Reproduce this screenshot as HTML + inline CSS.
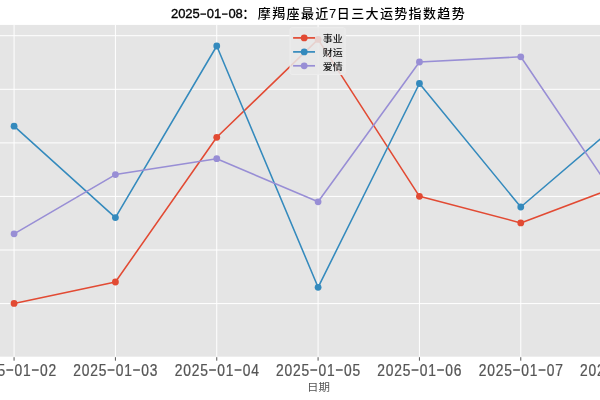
<!DOCTYPE html>
<html><head><meta charset="utf-8"><title>chart</title>
<style>
html,body{margin:0;padding:0;background:#fff;width:600px;height:400px;overflow:hidden}
svg{display:block}
#w{width:600px;height:400px}
</style></head><body>
<div id="w"><svg width="600" height="400" viewBox="0 0 600 400">
<rect x="0" y="0" width="600" height="400" fill="#fff"/>
<rect x="-20" y="24.9" width="680" height="331.8" fill="#E5E5E5"/>
<g stroke="#fff" stroke-width="1" fill="none">
<line x1="-20" y1="35.7" x2="660" y2="35.7"/>
<line x1="-20" y1="89.3" x2="660" y2="89.3"/>
<line x1="-20" y1="142.9" x2="660" y2="142.9"/>
<line x1="-20" y1="196.4" x2="660" y2="196.4"/>
<line x1="-20" y1="250" x2="660" y2="250"/>
<line x1="-20" y1="303.6" x2="660" y2="303.6"/>
<line x1="14.07" y1="24.9" x2="14.07" y2="356.7"/>
<line x1="115.41" y1="24.9" x2="115.41" y2="356.7"/>
<line x1="216.75" y1="24.9" x2="216.75" y2="356.7"/>
<line x1="318.09" y1="24.9" x2="318.09" y2="356.7"/>
<line x1="419.43" y1="24.9" x2="419.43" y2="356.7"/>
<line x1="520.77" y1="24.9" x2="520.77" y2="356.7"/>
<line x1="622.11" y1="24.9" x2="622.11" y2="356.7"/>
</g>
<g stroke="#555" stroke-width="1">
<line x1="14.07" y1="357.2" x2="14.07" y2="360.7"/>
<line x1="115.41" y1="357.2" x2="115.41" y2="360.7"/>
<line x1="216.75" y1="357.2" x2="216.75" y2="360.7"/>
<line x1="318.09" y1="357.2" x2="318.09" y2="360.7"/>
<line x1="419.43" y1="357.2" x2="419.43" y2="360.7"/>
<line x1="520.77" y1="357.2" x2="520.77" y2="360.7"/>
<line x1="622.11" y1="357.2" x2="622.11" y2="360.7"/>
</g>
<text x="-27.48 -17.82 -8.16 1.5 11.16 20.82 30.48 40.14 49.8 59.45" y="375.6 375.6 375.6 375.6 375.6 375.6 375.6 375.6 375.6 375.6" font-size="15.7" fill="#555" text-anchor="middle" font-family="'Liberation Sans','Noto Sans CJK SC',sans-serif" transform="scale(0.88,1)" stroke="#555" stroke-width="0.25">2025<tspan font-family="IPAGothic,'Liberation Sans',sans-serif" font-size="18.4" dy="1.4">-</tspan>01<tspan font-family="IPAGothic,'Liberation Sans',sans-serif" font-size="18.4" dy="1.4">-</tspan>02</text>
<text x="87.68 97.34 107 116.66 126.32 135.98 145.64 155.3 164.95 174.61" y="375.6 375.6 375.6 375.6 375.6 375.6 375.6 375.6 375.6 375.6" font-size="15.7" fill="#555" text-anchor="middle" font-family="'Liberation Sans','Noto Sans CJK SC',sans-serif" transform="scale(0.88,1)" stroke="#555" stroke-width="0.25">2025<tspan font-family="IPAGothic,'Liberation Sans',sans-serif" font-size="18.4" dy="1.4">-</tspan>01<tspan font-family="IPAGothic,'Liberation Sans',sans-serif" font-size="18.4" dy="1.4">-</tspan>03</text>
<text x="202.84 212.5 222.16 231.82 241.48 251.14 260.8 270.45 280.11 289.77" y="375.6 375.6 375.6 375.6 375.6 375.6 375.6 375.6 375.6 375.6" font-size="15.7" fill="#555" text-anchor="middle" font-family="'Liberation Sans','Noto Sans CJK SC',sans-serif" transform="scale(0.88,1)" stroke="#555" stroke-width="0.25">2025<tspan font-family="IPAGothic,'Liberation Sans',sans-serif" font-size="18.4" dy="1.4">-</tspan>01<tspan font-family="IPAGothic,'Liberation Sans',sans-serif" font-size="18.4" dy="1.4">-</tspan>04</text>
<text x="318 327.66 337.32 346.98 356.64 366.3 375.95 385.61 395.27 404.93" y="375.6 375.6 375.6 375.6 375.6 375.6 375.6 375.6 375.6 375.6" font-size="15.7" fill="#555" text-anchor="middle" font-family="'Liberation Sans','Noto Sans CJK SC',sans-serif" transform="scale(0.88,1)" stroke="#555" stroke-width="0.25">2025<tspan font-family="IPAGothic,'Liberation Sans',sans-serif" font-size="18.4" dy="1.4">-</tspan>01<tspan font-family="IPAGothic,'Liberation Sans',sans-serif" font-size="18.4" dy="1.4">-</tspan>05</text>
<text x="433.16 442.82 452.48 462.14 471.8 481.45 491.11 500.77 510.43 520.09" y="375.6 375.6 375.6 375.6 375.6 375.6 375.6 375.6 375.6 375.6" font-size="15.7" fill="#555" text-anchor="middle" font-family="'Liberation Sans','Noto Sans CJK SC',sans-serif" transform="scale(0.88,1)" stroke="#555" stroke-width="0.25">2025<tspan font-family="IPAGothic,'Liberation Sans',sans-serif" font-size="18.4" dy="1.4">-</tspan>01<tspan font-family="IPAGothic,'Liberation Sans',sans-serif" font-size="18.4" dy="1.4">-</tspan>06</text>
<text x="548.32 557.98 567.64 577.3 586.95 596.61 606.27 615.93 625.59 635.25" y="375.6 375.6 375.6 375.6 375.6 375.6 375.6 375.6 375.6 375.6" font-size="15.7" fill="#555" text-anchor="middle" font-family="'Liberation Sans','Noto Sans CJK SC',sans-serif" transform="scale(0.88,1)" stroke="#555" stroke-width="0.25">2025<tspan font-family="IPAGothic,'Liberation Sans',sans-serif" font-size="18.4" dy="1.4">-</tspan>01<tspan font-family="IPAGothic,'Liberation Sans',sans-serif" font-size="18.4" dy="1.4">-</tspan>07</text>
<text x="663.48 673.14 682.8 692.45 702.11 711.77 721.43 731.09 740.75 750.41" y="375.6 375.6 375.6 375.6 375.6 375.6 375.6 375.6 375.6 375.6" font-size="15.7" fill="#555" text-anchor="middle" font-family="'Liberation Sans','Noto Sans CJK SC',sans-serif" transform="scale(0.88,1)" stroke="#555" stroke-width="0.25">2025<tspan font-family="IPAGothic,'Liberation Sans',sans-serif" font-size="18.4" dy="1.4">-</tspan>01<tspan font-family="IPAGothic,'Liberation Sans',sans-serif" font-size="18.4" dy="1.4">-</tspan>08</text>
<text x="318.6" y="391" transform="translate(0 386.8) scale(1 0.9) translate(0 -386.8)" font-family="'Liberation Sans','Noto Sans CJK SC',sans-serif" font-size="11.5" fill="#555" text-anchor="middle">日期</text>
<text x="174.59 181.77 188.95 196.13 203.31 210.49 217.67 224.85 232.03 239.21" y="18.3 18.3 18.3 18.3 18.3 18.3 18.3 18.3 18.3 18.3" font-size="13" fill="#000" text-anchor="middle" font-family="'Liberation Sans','Noto Sans CJK SC',sans-serif" stroke="#000" stroke-width="0.35">2025<tspan font-family="IPAGothic,'Liberation Sans',sans-serif" font-size="13" dy="0.4">-</tspan>01<tspan font-family="IPAGothic,'Liberation Sans',sans-serif" font-size="13" dy="0.4">-</tspan>08</text>
<text x="248.78 264.34 278.7 293.06 307.42 321.78 332.55 343.32 357.68 372.04 386.4 400.76 415.12 429.48 443.84 458.2" y="17.6" font-family="'Liberation Sans','Noto Sans CJK SC',sans-serif" font-size="13" font-weight="500" fill="#000" text-anchor="middle">：摩羯座最近7日三大运势指数趋势</text>
<polyline points="14.07,303.4 115.41,282 216.75,137.3 318.09,39.4 419.43,196.3 520.77,222.9 622.11,184.8" fill="none" stroke="#E24A33" stroke-width="1.55" stroke-linejoin="round" stroke-linecap="round"/>
<circle cx="14.07" cy="303.4" r="3.4" fill="#E24A33"/>
<circle cx="115.41" cy="282" r="3.4" fill="#E24A33"/>
<circle cx="216.75" cy="137.3" r="3.4" fill="#E24A33"/>
<circle cx="318.09" cy="39.4" r="3.4" fill="#E24A33"/>
<circle cx="419.43" cy="196.3" r="3.4" fill="#E24A33"/>
<circle cx="520.77" cy="222.9" r="3.4" fill="#E24A33"/>
<circle cx="622.11" cy="184.8" r="3.4" fill="#E24A33"/>
<polyline points="14.07,126.2 115.41,217.6 216.75,46 318.09,287.3 419.43,83.5 520.77,207 622.11,120.4" fill="none" stroke="#348ABD" stroke-width="1.55" stroke-linejoin="round" stroke-linecap="round"/>
<circle cx="14.07" cy="126.2" r="3.4" fill="#348ABD"/>
<circle cx="115.41" cy="217.6" r="3.4" fill="#348ABD"/>
<circle cx="216.75" cy="46" r="3.4" fill="#348ABD"/>
<circle cx="318.09" cy="287.3" r="3.4" fill="#348ABD"/>
<circle cx="419.43" cy="83.5" r="3.4" fill="#348ABD"/>
<circle cx="520.77" cy="207" r="3.4" fill="#348ABD"/>
<circle cx="622.11" cy="120.4" r="3.4" fill="#348ABD"/>
<polyline points="14.07,233.8 115.41,174.6 216.75,158.7 318.09,201.8 419.43,62 520.77,56.8 622.11,206.5" fill="none" stroke="#988ED5" stroke-width="1.55" stroke-linejoin="round" stroke-linecap="round"/>
<circle cx="14.07" cy="233.8" r="3.4" fill="#988ED5"/>
<circle cx="115.41" cy="174.6" r="3.4" fill="#988ED5"/>
<circle cx="216.75" cy="158.7" r="3.4" fill="#988ED5"/>
<circle cx="318.09" cy="201.8" r="3.4" fill="#988ED5"/>
<circle cx="419.43" cy="62" r="3.4" fill="#988ED5"/>
<circle cx="520.77" cy="56.8" r="3.4" fill="#988ED5"/>
<circle cx="622.11" cy="206.5" r="3.4" fill="#988ED5"/>
<rect x="290" y="27.6" width="55.2" height="46.8" rx="2" ry="2" fill="#E8E8E8" fill-opacity="0.86" stroke="#EDEDED" stroke-width="1"/>
<line x1="293.1" y1="37.9" x2="315" y2="37.9" stroke="#E24A33" stroke-width="1.7"/>
<circle cx="304.2" cy="37.9" r="3.4" fill="#E24A33"/>
<text x="327.7 337.7" y="42.4" transform="translate(0 39) scale(1 0.86) translate(0 -39)" font-family="'Liberation Sans','Noto Sans CJK SC',sans-serif" font-size="10" font-weight="500" fill="#111" text-anchor="middle">事业</text>
<line x1="293.1" y1="51.9" x2="315" y2="51.9" stroke="#348ABD" stroke-width="1.7"/>
<circle cx="304.2" cy="51.9" r="3.4" fill="#348ABD"/>
<text x="327.7 337.7" y="56.4" transform="translate(0 53) scale(1 0.86) translate(0 -53)" font-family="'Liberation Sans','Noto Sans CJK SC',sans-serif" font-size="10" font-weight="500" fill="#111" text-anchor="middle">财运</text>
<line x1="293.1" y1="65.8" x2="315" y2="65.8" stroke="#988ED5" stroke-width="1.7"/>
<circle cx="304.2" cy="65.8" r="3.4" fill="#988ED5"/>
<text x="327.7 337.7" y="70.3" transform="translate(0 66.9) scale(1 0.86) translate(0 -66.9)" font-family="'Liberation Sans','Noto Sans CJK SC',sans-serif" font-size="10" font-weight="500" fill="#111" text-anchor="middle">爱情</text>
</svg></div>
</body></html>
